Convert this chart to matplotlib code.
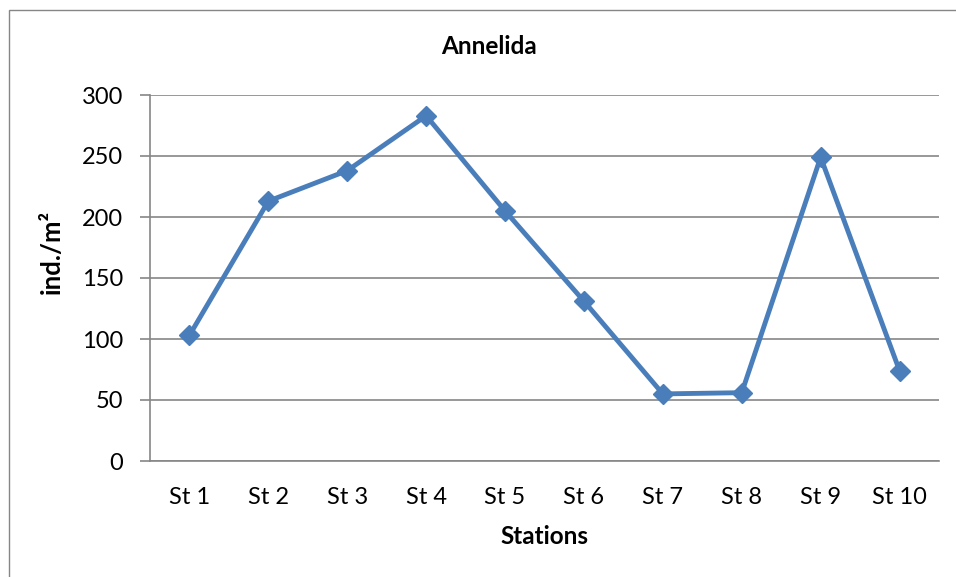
import matplotlib
matplotlib.use("Agg")
import matplotlib.pyplot as plt
from matplotlib.patches import Rectangle

stations = ["St 1", "St 2", "St 3", "St 4", "St 5", "St 6", "St 7", "St 8", "St 9", "St 10"]
values = [103, 213, 238, 283, 205, 131, 55, 56, 249, 74]
yticks = [0, 50, 100, 150, 200, 250, 300]

plt.rcParams['font.family'] = ['Lato', 'DejaVu Sans']

W, H = 956, 577
fig = plt.figure(figsize=(W / 100, H / 100), dpi=100)
fig.patch.set_facecolor('white')

# outer chart frame
fig.patches.append(Rectangle((8.5 / W, -0.1), 1.2, (H - 9.5) / H + 0.1,
                             transform=fig.transFigure, fill=False,
                             edgecolor='#868686', linewidth=1.0))

left, right, top, bottom = 150, 939, 95, 461
ax = fig.add_axes([left / W, 1 - bottom / H, (right - left) / W, (bottom - top) / H])

x = list(range(len(stations)))
ax.plot(x, values, color='#4A7EBB', linewidth=3.5, marker='D', markersize=10.5,
        markerfacecolor='#4A7EBB', markeredgecolor='#4A7EBB', zorder=3,
        clip_on=False)

ax.set_xlim(-0.5, len(stations) - 0.5)
ax.set_ylim(0, 300)
ax.set_yticks(yticks)
ax.set_yticklabels([str(v) for v in yticks])
ax.set_xticks(x)
ax.set_xticklabels(stations)

ax.grid(axis='y', color='#868686', linewidth=1.2)
ax.set_axisbelow(True)
for s in ['top', 'right']:
    ax.spines[s].set_visible(False)
for s in ['left', 'bottom']:
    ax.spines[s].set_color('#868686')
    ax.spines[s].set_linewidth(1.2)

ax.tick_params(axis='y', length=7.2, color='#868686', width=1.2, labelsize=17, pad=12)
ax.tick_params(axis='x', length=0, labelsize=17, pad=19)

fig.text(489 / W, 1 - 47 / H, "Annelida", fontsize=17.5, fontweight='bold',
         ha='center', va='center')
fig.text(544.5 / W, 1 - 537 / H, "Stations", fontsize=17.5, fontweight='bold',
         ha='center', va='center')
fig.text(52 / W, 1 - 252 / H, "ind./m²", fontsize=18.5, fontweight='bold',
         ha='center', va='center', rotation=90)

fig.savefig("out.png", dpi=100, facecolor='white')
